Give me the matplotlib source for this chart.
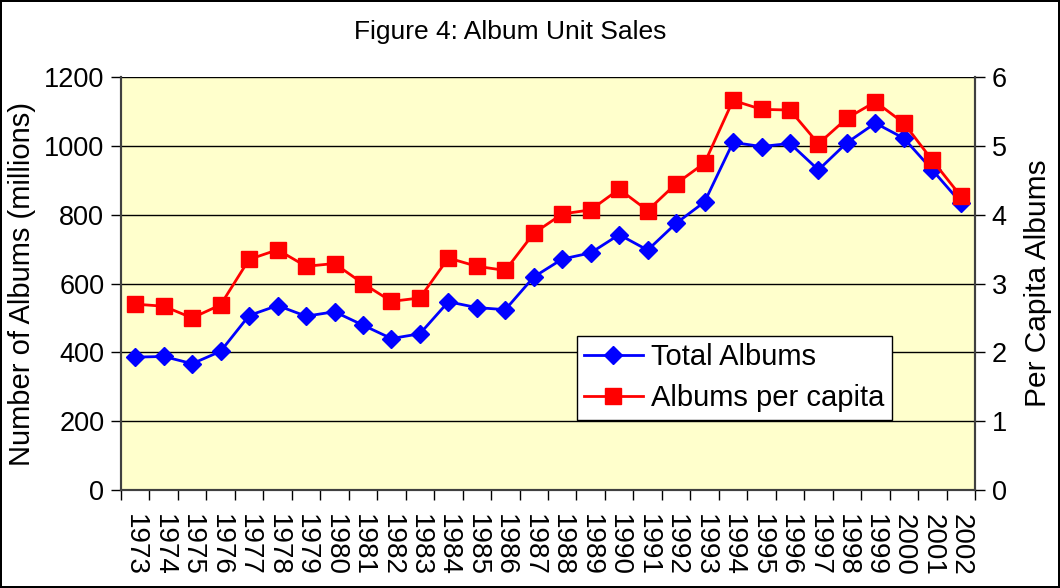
import numpy as np
import matplotlib
matplotlib.use('Agg')
import matplotlib.pyplot as plt

plt.rcParams['font.family'] = ['Liberation Sans', 'DejaVu Sans']

years = [str(y) for y in range(1973, 2003)]
total_albums = [386, 388, 367, 403, 507, 536, 505, 518, 479, 440,
                454, 547, 530, 524, 619, 671, 689, 742, 697, 775,
                837, 1010, 998, 1007, 930, 1009, 1066, 1022, 930, 835]
per_capita = [2.70, 2.67, 2.50, 2.69, 3.35, 3.49, 3.25, 3.29, 3.00, 2.74,
              2.79, 3.37, 3.25, 3.19, 3.73, 4.01, 4.07, 4.37, 4.06, 4.45,
              4.75, 5.66, 5.53, 5.52, 5.03, 5.40, 5.64, 5.33, 4.79, 4.27]

x = np.arange(len(years))

fig = plt.figure(figsize=(10.6, 5.88), dpi=100)
fig.patch.set_facecolor('white')
fig.patch.set_edgecolor('black')
fig.patch.set_linewidth(1.5)

ax = fig.add_axes([121/1060, 98/588, 854/1060, 413/588])
ax.set_facecolor('#FFFFCC')
ax2 = ax.twinx()

l1, = ax.plot(x, total_albums, color='#0000FF', lw=2, marker='D', ms=9.5,
              label='Total Albums')
l2, = ax2.plot(x, per_capita, color='#FF0000', lw=2, marker='s', ms=11,
               label='Albums per capita')

ax.set_ylim(0, 1200)
ax.set_yticks(range(0, 1201, 200))
ax2.set_ylim(0, 6)
ax2.set_yticks(range(0, 7))
ax.set_xlim(-0.5, len(years) - 0.5)

ax.set_xticks(x)
ax.set_xticklabels(years, rotation=270, fontsize=20)
ax.set_xticks(np.arange(-0.5, len(years)), minor=True)
ax.tick_params(axis='x', which='major', length=0, pad=17)
ax.tick_params(axis='x', which='minor', length=7, width=1, direction='out')
ax.tick_params(axis='y', length=7, width=1, direction='out', labelsize=19.5, pad=5)
ax2.tick_params(axis='y', length=7, width=1, direction='out', labelsize=19.5, pad=5)

ax.yaxis.grid(True, color='black', lw=1)
ax.set_axisbelow(True)

for a in (ax, ax2):
    for s in a.spines.values():
        s.set_color('#404040')
        s.set_linewidth(1.5)
    a.spines['top'].set_visible(False)

ax.set_ylabel('Number of Albums (millions)', fontsize=21, labelpad=6)
ax2.set_ylabel('Per Capita Albums', fontsize=21.5, labelpad=12)

fig.text(510/1060, 1 - 32/588, 'Figure 4: Album Unit Sales', fontsize=19,
         ha='center', va='center')

leg = ax2.legend(handles=[l1, l2], loc='upper left',
                 bbox_to_anchor=(0.534, 0.373), fontsize=21, fancybox=False,
                 framealpha=1, edgecolor='black', borderpad=0.25,
                 handlelength=2.0, handletextpad=0.3, labelspacing=0.45,
                 borderaxespad=0)
leg.get_frame().set_linewidth(1)

fig.savefig('out.png', dpi=100)
